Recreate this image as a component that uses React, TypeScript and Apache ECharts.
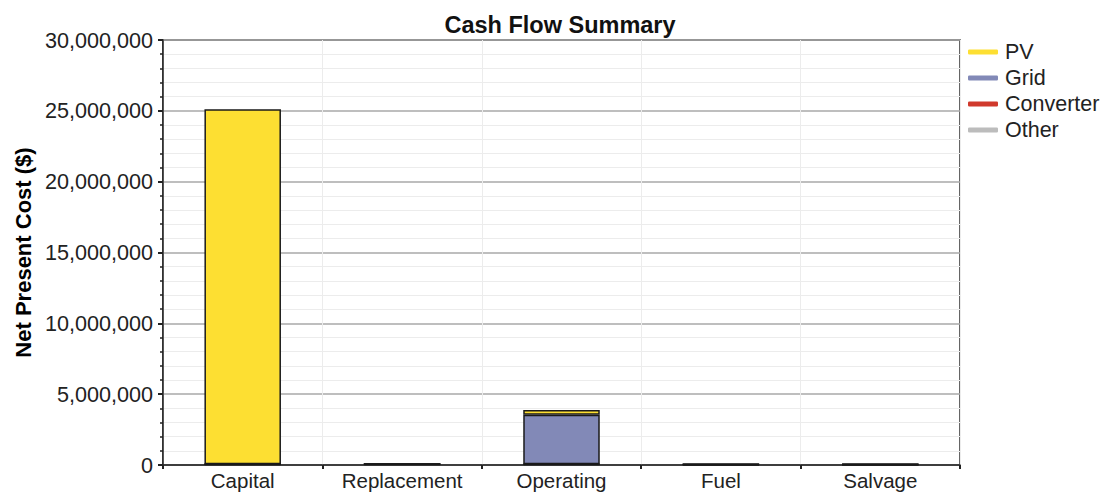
import React, { useEffect, useRef } from "react";
import * as echarts from "echarts";

const categories = ["Capital", "Replacement", "Operating", "Fuel", "Salvage"];
const converterValues = [60000, 70000, 60000, 0, 0];
const otherValues = [0, 0, 0, 60000, 60000];
const gridValues = [0, 0, 3480000, 0, 0];
const pvValues = [25050000, 0, 350000, 0, 0];

const FONT = "Liberation Sans, Arial, sans-serif";

export default function App() {
  const ref = useRef<HTMLDivElement>(null);
  useEffect(() => {
    if (!ref.current) return;
    const chart = echarts.init(ref.current, null, { renderer: "svg" });
    const barStyle = { borderColor: "#1a1a1a", borderWidth: 1.5 };
    const mk = (name: string, data: number[], color: string) => ({
      name,
      type: "bar",
      stack: "total",
      data,
      barWidth: "48%",
      itemStyle: { color, ...barStyle },
    });
    chart.setOption({
      animation: false,
      title: {
        text: "Cash Flow Summary",
        left: 555,
        textAlign: "center",
        top: 8,
        textStyle: { fontFamily: FONT, fontSize: 23.5, fontWeight: "bold", color: "#111" },
      },
      legend: {
        orient: "vertical",
        left: 963,
        top: 36,
        itemGap: 4,
        itemWidth: 30,
        itemHeight: 5,
        icon: "roundRect",
        data: ["PV", "Grid", "Converter", "Other"],
        itemStyle: { borderWidth: 0 },
        textStyle: { fontFamily: FONT, fontSize: 21.5, color: "#222", padding: [0, 0, 0, 2] },
      },
      grid: { left: 163, right: 145, top: 40, bottom: 28, show: true, borderColor: "#333", borderWidth: 1.5 },
      xAxis: {
        type: "category",
        data: categories,
        axisLine: { lineStyle: { color: "#222", width: 1.5 } },
        axisTick: { show: true, length: 4, lineStyle: { color: "#222", width: 2 } },
        axisLabel: { fontFamily: FONT, fontSize: 20.5, color: "#222", margin: 5 },
        splitLine: { show: true, lineStyle: { color: "#ececec", width: 1 } },
      },
      yAxis: {
        type: "value",
        min: 0,
        max: 30000000,
        interval: 5000000,
        name: "Net Present Cost ($)",
        nameLocation: "middle",
        nameGap: 124,
        nameTextStyle: { fontFamily: FONT, fontSize: 22, fontWeight: "bold", color: "#000" },
        axisLine: { show: true, lineStyle: { color: "#222", width: 1.5 } },
        axisTick: { show: true, length: 5, lineStyle: { color: "#222", width: 2 } },
        minorTick: { show: true, splitNumber: 5, length: 3, lineStyle: { color: "#222", width: 1.5 } },
        axisLabel: {
          fontFamily: FONT,
          fontSize: 21.6,
          color: "#222",
          margin: 10,
          formatter: (v: number) => v.toLocaleString("en-US"),
        },
        splitLine: { show: true, lineStyle: { color: "#a8a8a8", width: 1.5 } },
        minorSplitLine: { show: true, lineStyle: { color: "#ececec", width: 1 } },
      },
      series: [
        mk("Converter", converterValues, "#d0392c"),
        mk("Other", otherValues, "#bcbcbc"),
        mk("Grid", gridValues, "#8289b7"),
        mk("PV", pvValues, "#fddf32"),
      ],
    });
    return () => chart.dispose();
  }, []);
  return <div ref={ref} style={{ width: 1105, height: 493, position: "absolute", left: 0, top: 0 }} />;
}
